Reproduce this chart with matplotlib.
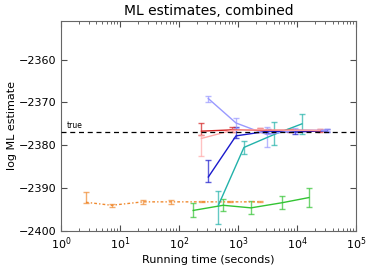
import numpy as np
import matplotlib
matplotlib.use("Agg")
import matplotlib.pyplot as plt
from matplotlib.colors import to_rgba

# ---- data ----
true_val = -2377.0

t_orange = [2.65, 7.2, 24.5, 73, 245, 730, 2350]
v_orange = [-2393.3, -2394.0, -2393.2, -2393.2, -2393.2, -2393.2, -2393.2]
lo_orange = [0.2, 0.3, 0.4, 0.4, 0.1, 0.1, 0.1]
hi_orange = [2.3, 0.3, 0.4, 0.4, 0.1, 0.1, 0.1]

t_green = [174, 560, 1660, 5600, 15900]
v_green = [-2395.2, -2394.0, -2394.6, -2393.4, -2392.2]
lo_green = [1.5, 1.4, 1.5, 1.5, 2.2]
hi_green = [1.7, 1.4, 1.5, 1.5, 2.2]

t_cyan = [465, 1260, 4060, 12100]
v_cyan = [-2394.0, -2380.5, -2377.5, -2375.0]
lo_cyan = [4.3, 1.6, 2.5, 2.4]
hi_cyan = [3.3, 1.6, 2.9, 2.4]

t_blue = [314, 925, 3250, 9300, 31700]
v_blue = [-2387.4, -2377.8, -2376.7, -2376.9, -2376.6]
lo_blue = [1.2, 0.5, 0.5, 0.5, 0.3]
hi_blue = [4.0, 2.0, 0.5, 0.5, 0.3]

t_lblue = [314, 925, 3080, 9300, 31700]
v_lblue = [-2369.1, -2374.8, -2377.5, -2376.5, -2376.5]
lo_lblue = [0.7, 1.2, 3.0, 0.5, 0.2]
hi_lblue = [0.7, 1.2, 1.8, 0.5, 0.2]

t_red = [240, 800, 2350, 7600, 24500]
v_red = [-2376.7, -2376.4, -2376.5, -2376.5, -2376.6]
lo_red = [0.8, 0.6, 0.5, 0.4, 0.3]
hi_red = [2.0, 0.6, 0.5, 0.4, 0.3]

t_pink = [240, 800, 2350, 7600, 24500]
v_pink = [-2378.4, -2376.5, -2376.4, -2376.5, -2376.5]
lo_pink = [4.2, 0.3, 0.4, 0.3, 0.2]
hi_pink = [0.7, 0.3, 0.4, 0.3, 0.2]

series = [
    (t_orange, v_orange, lo_orange, hi_orange, '#f08a30', (0, (2, 1.5, 1, 1.5))),
    (t_green, v_green, lo_green, hi_green, '#33c433', '-'),
    (t_cyan, v_cyan, lo_cyan, hi_cyan, '#22b2aa', '-'),
    (t_blue, v_blue, lo_blue, hi_blue, '#1a1acc', '-'),
    (t_lblue, v_lblue, lo_lblue, hi_lblue, '#9a9aff', '-'),
    (t_red, v_red, lo_red, hi_red, '#d42020', '-'),
    (t_pink, v_pink, lo_pink, hi_pink, '#ffa8a8', '-'),
]

fig = plt.figure(figsize=(3.74, 2.8), dpi=100)
ax = fig.add_axes([0.163, 0.175, 0.789, 0.75])

for t, v, lo, hi, c, ls in series:
    ax.errorbar(t, v, yerr=[lo, hi], color=c, ecolor=to_rgba(c, 0.7),
                linestyle=ls, linewidth=1, elinewidth=1, capsize=2, capthick=1)

ax.axhline(true_val, color='k', linestyle='--', linewidth=0.9, dashes=(4, 3), zorder=10)
ax.text(1.25, true_val + 0.6, 'true', fontsize=5.5, va='bottom', ha='left')

ax.set_xscale('log')
ax.set_xlim(1, 1e5)
ax.set_ylim(-2400, -2351)
ax.set_yticks([-2400, -2390, -2380, -2370, -2360])
ax.set_title('ML estimates, combined', fontsize=10, pad=4)
ax.set_xlabel('Running time (seconds)', fontsize=8, labelpad=2)
ax.set_ylabel('log ML estimate', fontsize=8, labelpad=1)
ax.tick_params(which='both', direction='in', top=True, right=True, labelsize=8, color='0.3')
ax.tick_params(which='major', length=4)
ax.tick_params(which='minor', length=2)
for s in ax.spines.values():
    s.set_color('0.4')

fig.savefig('out.png', dpi=100)
